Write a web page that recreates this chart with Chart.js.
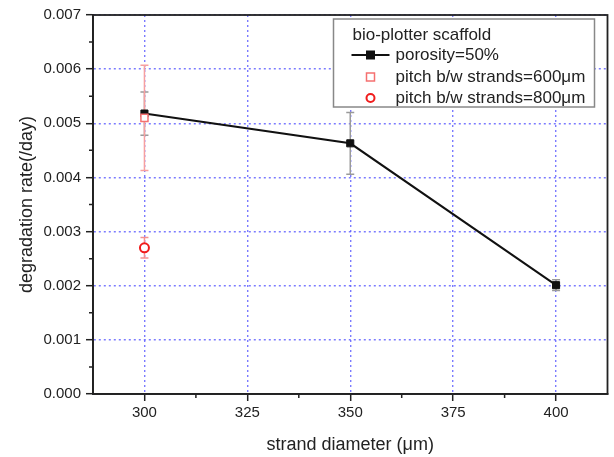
<!DOCTYPE html>
<html>
<head>
<meta charset="utf-8">
<script src="https://cdn.jsdelivr.net/npm/chart.js@4"></script>
<style>
  html, body { margin: 0; padding: 0; background: #fff; }
  #wrap { width: 614px; height: 457px; }
</style>
</head>
<body>
<div id="wrap"><canvas id="grafico" width="614" height="457"></canvas></div>
<script>
// dados
const diametros = [300, 350, 400];
const porosidade = [0.00518, 0.00463, 0.00201];
const erroPorosidade = [0.0004, 0.00057, 0.0001];

const diametro600 = [300];
const pitch600 = [0.0051];
const erro600 = [0.00097];

const diametro800 = [300];
const pitch800 = [0.0027];
const erro800 = [0.00019];

const ticksX = [300, 325, 350, 375, 400];
const legendaTitulo = 'bio-plotter scaffold';

const fonte = '"Liberation Sans", Arial, sans-serif';
const corGrade = 'rgba(90,90,255,0.8)';

function pontos(xs, ys, es) {
  return xs.map((x, i) => ({ x: x, y: ys[i], e: es[i] }));
}

// ------------ barras de erro ------------
const barrasErro = {
  id: 'barrasErro',
  beforeDatasetsDraw(chart) {
    const ctx = chart.ctx;
    const sx = chart.scales.x, sy = chart.scales.y;
    chart.data.datasets.forEach(ds => {
      ctx.save();
      ctx.strokeStyle = ds.corErro;
      ctx.lineWidth = 1.5;
      ds.data.forEach(p => {
        const px = sx.getPixelForValue(p.x);
        const top = sy.getPixelForValue(p.y + p.e);
        const bot = sy.getPixelForValue(p.y - p.e);
        ctx.beginPath();
        ctx.moveTo(px, top); ctx.lineTo(px, bot);
        ctx.moveTo(px - 4, top); ctx.lineTo(px + 4, top);
        ctx.moveTo(px - 4, bot); ctx.lineTo(px + 4, bot);
        ctx.stroke();
      });
      ctx.restore();
    });
  }
};

// ------------ moldura, ticks menores e legenda ------------
const moldura = {
  id: 'moldura',
  afterDraw(chart) {
    const ctx = chart.ctx;
    const a = chart.chartArea;
    const sx = chart.scales.x, sy = chart.scales.y;
    ctx.save();
    ctx.setLineDash([]);
    ctx.strokeStyle = '#222';
    ctx.lineWidth = 1.8;
    ctx.strokeRect(a.left, a.top, a.right - a.left, a.bottom - a.top);

    // ticks menores
    ctx.lineWidth = 1.5;
    ctx.beginPath();
    for (let v = 312.5; v < 412.5; v += 25) {
      const px = sx.getPixelForValue(v);
      ctx.moveTo(px, a.bottom); ctx.lineTo(px, a.bottom + 4);
    }
    for (let v = 0.0005; v < 0.007; v += 0.001) {
      const py = sy.getPixelForValue(v);
      ctx.moveTo(a.left + 1, py); ctx.lineTo(a.left - 4, py);
    }
    ctx.stroke();

    // legenda
    const lx = a.right - 13, ly = a.top + 4;
    const w = 261, h = 88;
    const x0 = lx - w;
    ctx.fillStyle = '#fff';
    ctx.fillRect(x0, ly, w, h);
    ctx.strokeStyle = '#888';
    ctx.lineWidth = 1.5;
    ctx.strokeRect(x0, ly, w, h);

    ctx.font = '17px ' + fonte;
    ctx.fillStyle = '#222';
    ctx.textBaseline = 'middle';
    ctx.textAlign = 'left';
    ctx.fillText(legendaTitulo, x0 + 19, ly + 16);

    const mx = x0 + 37;
    const tx = x0 + 62;
    const linhas = [ly + 36, ly + 58, ly + 79];
    chart.data.datasets.forEach((ds, i) => {
      const yy = linhas[i];
      if (ds.showLine !== false) {
        ctx.strokeStyle = ds.borderColor;
        ctx.lineWidth = 2;
        ctx.beginPath();
        ctx.moveTo(mx - 19, yy); ctx.lineTo(mx + 19, yy);
        ctx.stroke();
      }
      ctx.strokeStyle = ds.pointBorderColor;
      ctx.fillStyle = ds.pointBackgroundColor;
      ctx.lineWidth = ds.pointBorderWidth;
      if (ds.pointStyle === 'circle') {
        ctx.beginPath();
        ctx.arc(mx, yy, 4, 0, Math.PI * 2);
        ctx.fill(); ctx.stroke();
      } else {
        ctx.fillRect(mx - 4, yy - 4, 8, 8);
        ctx.strokeRect(mx - 4, yy - 4, 8, 8);
      }
      ctx.fillStyle = '#222';
      ctx.fillText(ds.label, tx, yy);
    });
    ctx.restore();
  }
};

const grade = {
  color: corGrade,
  lineWidth: 1.4,
  tickColor: '#222',
  tickLength: 7,
  tickBorderDash: [],
  tickWidth: 1.5
};
const borda = { color: '#222', width: 1.8, dash: [2, 3] };

new Chart(document.getElementById('grafico'), {
  type: 'line',
  data: {
    datasets: [{
      label: 'porosity=50%',
      data: pontos(diametros, porosidade, erroPorosidade),
      borderColor: '#111',
      borderWidth: 2,
      pointStyle: 'rect',
      pointRadius: 5,
      pointBackgroundColor: '#111',
      pointBorderColor: '#111',
      pointBorderWidth: 1,
      corErro: '#9a9a9a',
      order: 1
    }, {
      label: 'pitch b/w strands=600μm',
      data: pontos(diametro600, pitch600, erro600),
      showLine: false,
      pointStyle: 'rect',
      pointRadius: 5,
      pointBackgroundColor: '#fff',
      pointBorderColor: '#f57070',
      pointBorderWidth: 1.5,
      corErro: '#f7a0a0',
      order: 0
    }, {
      label: 'pitch b/w strands=800μm',
      data: pontos(diametro800, pitch800, erro800),
      showLine: false,
      pointStyle: 'circle',
      pointRadius: 4.5,
      pointBackgroundColor: '#fff',
      pointBorderColor: '#f01c1c',
      pointBorderWidth: 2,
      corErro: '#f59090',
      order: 0
    }]
  },
  options: {
    responsive: false,
    animation: false,
    layout: { padding: { top: 15, right: 4, left: 0, bottom: 0 } },
    plugins: { legend: { display: false }, tooltip: { enabled: false } },
    scales: {
      x: {
        type: 'linear',
        min: 287.5,
        max: 412.5,
        afterBuildTicks: s => { s.ticks = ticksX.map(v => ({ value: v })); },
        afterFit: s => { s.height = 63; },
        grid: grade,
        border: borda,
        ticks: { color: '#222', font: { family: fonte, size: 15 }, padding: 3 },
        title: {
          display: true,
          text: 'strand diameter (μm)',
          color: '#222',
          font: { family: fonte, size: 18 },
          padding: { top: 0, bottom: 1 }
        }
      },
      y: {
        min: 0,
        max: 0.007,
        ticks: {
          stepSize: 0.001,
          color: '#222',
          font: { family: fonte, size: 15 },
          padding: 5,
          callback: v => v.toFixed(3)
        },
        afterFit: s => { s.width = 93; },
        grid: grade,
        border: borda,
        title: {
          display: true,
          text: 'degradation rate(/day)',
          color: '#222',
          font: { family: fonte, size: 18 },
          padding: { top: 16, bottom: 0 }
        }
      }
    }
  },
  plugins: [barrasErro, moldura]
});
</script>
</body>
</html>
